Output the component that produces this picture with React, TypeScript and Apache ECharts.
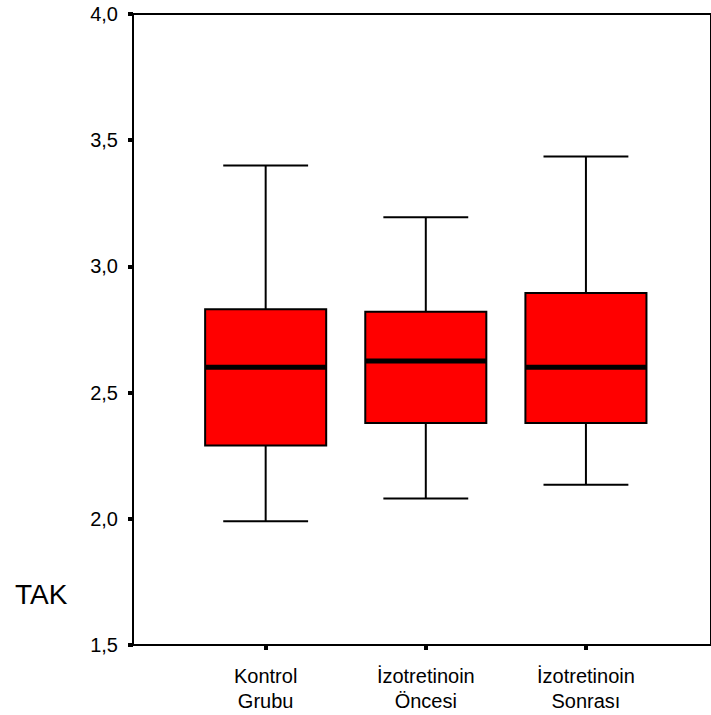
import React, { useEffect, useRef } from "react";
import * as echarts from "echarts";

const categories = ["Kontrol\nGrubu", "İzotretinoin\nÖncesi", "İzotretinoin\nSonrası"];
const lowWhisker = [1.99, 2.08, 2.135];
const q1Values = [2.29, 2.38, 2.38];
const medianValues = [2.6, 2.625, 2.6];
const q3Values = [2.83, 2.82, 2.895];
const highWhisker = [3.4, 3.195, 3.435];
const yMin = 1.5;
const yMax = 4.0;
const yStep = 0.5;
const yTitle = "TAK";

const FONT = "'Liberation Sans', Arial, sans-serif";

export default function App() {
  const ref = useRef<HTMLDivElement>(null);
  useEffect(() => {
    if (!ref.current) return;
    const chart = echarts.init(ref.current, null, { renderer: "svg" });
    const data = categories.map((_, i) => [i, lowWhisker[i], q1Values[i], medianValues[i], q3Values[i], highWhisker[i]]);
    const option: any = {
      animation: false,
      backgroundColor: "#fff",
      grid: [
        { left: 133, top: 14, right: -6, bottom: 70, show: true, borderColor: "#000", borderWidth: 2, backgroundColor: "transparent" },
        { left: 185.6, top: 14, right: 45, bottom: 70 },
      ],
      xAxis: [
        {
          gridIndex: 0, type: "value", min: 0, max: 1,
          axisLine: { show: true, lineStyle: { color: "#000", width: 2 } },
          axisTick: { show: false }, axisLabel: { show: false }, splitLine: { show: false },
        },
        {
          gridIndex: 1, type: "category", data: categories, boundaryGap: true,
          axisLine: { show: false },
          axisTick: { show: true, alignWithLabel: true, length: 5, lineStyle: { color: "#000", width: 4 } },
          axisLabel: { color: "#000", fontSize: 20, fontFamily: FONT, margin: 18, lineHeight: 25, interval: 0 },
          splitLine: { show: false },
        },
      ],
      yAxis: [
        {
          gridIndex: 0, type: "value", min: yMin, max: yMax, interval: yStep,
          axisLine: { show: true, lineStyle: { color: "#000", width: 2 } },
          axisTick: { show: true, length: 5, lineStyle: { color: "#000", width: 4 } },
          axisLabel: {
            color: "#000", fontSize: 20, fontFamily: FONT, margin: 15,
            formatter: (v: number) => v.toFixed(1).replace(".", ","),
          },
          splitLine: { show: false },
        },
        {
          gridIndex: 1, type: "value", min: yMin, max: yMax, interval: yStep,
          axisLine: { show: false }, axisTick: { show: false }, axisLabel: { show: false }, splitLine: { show: false },
        },
      ],
      graphic: [
        {
          type: "text", x: 15, y: 594,
          style: { text: yTitle, fontSize: 28, fontFamily: FONT, fill: "#000", verticalAlign: "middle", align: "left" },
        },
      ],
      series: [
        {
          type: "custom",
          xAxisIndex: 1,
          yAxisIndex: 1,
          data,
          encode: { x: 0, y: [1, 2, 3, 4, 5] },
          renderItem: (params: any, api: any) => {
            const idx = api.value(0);
            const pLow = api.coord([idx, api.value(1)]);
            const pQ1 = api.coord([idx, api.value(2)]);
            const pMed = api.coord([idx, api.value(3)]);
            const pQ3 = api.coord([idx, api.value(4)]);
            const pHigh = api.coord([idx, api.value(5)]);
            const band = api.size([1, 0])[0];
            const bw = band * 0.756;
            const cw = band * 0.53;
            const cx = pLow[0];
            const ls = { stroke: "#000", lineWidth: 2 };
            return {
              type: "group",
              children: [
                { type: "line", shape: { x1: cx, y1: pQ3[1], x2: cx, y2: pHigh[1] }, style: ls },
                { type: "line", shape: { x1: cx, y1: pQ1[1], x2: cx, y2: pLow[1] }, style: ls },
                { type: "line", shape: { x1: cx - cw / 2, y1: pHigh[1], x2: cx + cw / 2, y2: pHigh[1] }, style: ls },
                { type: "line", shape: { x1: cx - cw / 2, y1: pLow[1], x2: cx + cw / 2, y2: pLow[1] }, style: ls },
                {
                  type: "rect",
                  shape: { x: cx - bw / 2, y: pQ3[1], width: bw, height: pQ1[1] - pQ3[1] },
                  style: { fill: "#ff0000", stroke: "#000", lineWidth: 2 },
                },
                { type: "line", shape: { x1: cx - bw / 2, y1: pMed[1], x2: cx + bw / 2, y2: pMed[1] }, style: { stroke: "#000", lineWidth: 5 } },
              ],
            };
          },
        },
      ],
    };
    chart.setOption(option);
    return () => chart.dispose();
  }, []);
  return <div ref={ref} style={{ position: "fixed", left: 0, top: 0, width: 711, height: 715, background: "#fff" }} />;
}
